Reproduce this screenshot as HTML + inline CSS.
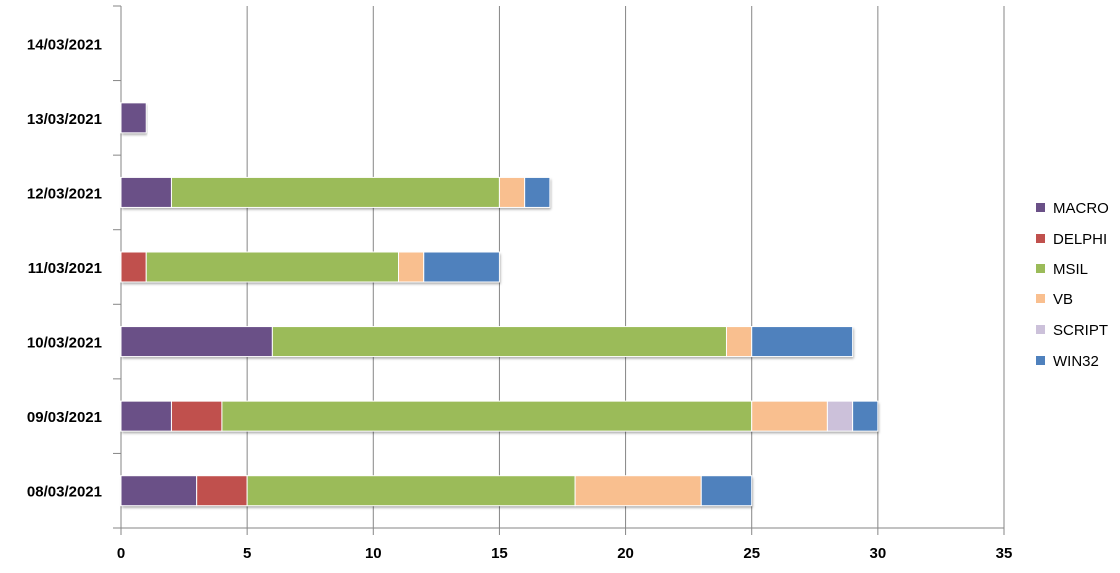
<!DOCTYPE html>
<html><head><meta charset="utf-8"><style>
body{margin:0;background:#fff;}
svg{display:block;font-family:"Liberation Sans",sans-serif;}
</style></head><body>
<svg id="c" width="1120" height="573"></svg>
<script>
const categories=["08/03/2021","09/03/2021","10/03/2021","11/03/2021","12/03/2021","13/03/2021","14/03/2021"];
const seriesNames=["MACRO","DELPHI","MSIL","VB","SCRIPT","WIN32"];
const colors=["#6a5087","#c0504d","#9bbb59","#f9bf8f","#ccc1da","#4f81bd"];
const macro=[3,2,6,0,2,1,0];
const delphi=[2,2,0,1,0,0,0];
const msil=[13,21,18,10,13,0,0];
const vb=[5,3,1,1,1,0,0];
const script=[0,1,0,0,0,0,0];
const win32=[2,1,4,3,1,0,0];
const xTicks=[0,5,10,15,20,25,30,35];
const values=[macro,delphi,msil,vb,script,win32];
const NS="http://www.w3.org/2000/svg";
const svg=document.getElementById("c");
const x0=121,x1=1004,yTop=6,yBot=528,xMax=35;
const band=(yBot-yTop)/categories.length;
const X=v=>x0+v/xMax*(x1-x0);
const Yc=i=>yBot-band*(i+0.5);
function mk(t,a){const e=document.createElementNS(NS,t);for(const k in a)e.setAttribute(k,a[k]);svg.appendChild(e);return e;}
const defs=mk("defs",{});
defs.innerHTML='<filter id="sh" x="-5%" y="-20%" width="110%" height="160%"><feDropShadow dx="1" dy="2" stdDeviation="1.2" flood-color="#000" flood-opacity="0.35"/></filter>';
xTicks.forEach(t=>{
 const g=mk("line",{x1:X(t),x2:X(t),y1:yTop,y2:yBot+7,stroke:"#868686","stroke-width":1});
 
 
 const tx=mk("text",{x:X(t),y:558,"text-anchor":"middle","font-size":15,"font-weight":"bold",fill:"#000"});
 tx.textContent=t;
 
 
});
const ax=mk("line",{x1:x0,x2:x1,y1:yBot,y2:yBot,stroke:"#868686","stroke-width":1});


for(let i=0;i<=categories.length;i++){
 const y=yBot-band*i;
 const tk=mk("line",{x1:113,x2:x0,y1:y,y2:y,stroke:"#868686","stroke-width":1});
 
 
}
categories.forEach((c,i)=>{
 const t=mk("text",{x:102,y:Yc(i)+6,"text-anchor":"end","font-size":15,"font-weight":"bold",fill:"#000"});
 t.textContent=c;
 
 
 let cum=0;
 const tot=values.reduce((s,a)=>s+a[i],0);
 if(tot>0){
  const s=mk("rect",{x:X(0),y:Yc(i)-15,width:X(tot)-X(0),height:30,fill:"#fff",filter:"url(#sh)"});
  
  
 }
 values.forEach((arr,k)=>{
  const v=arr[i];
  if(v>0){
   const r=mk("rect",{x:X(cum),y:Yc(i)-15,width:X(cum+v)-X(cum),height:30,fill:colors[k],stroke:"#fff","stroke-width":1});
   
   
  }
  cum+=v;
 });
});
const ly=[207,238,268,298,329,360];
seriesNames.forEach((n,k)=>{
 const r=mk("rect",{x:1036,y:ly[k]-4,width:9,height:9,fill:colors[k]});
 
 
 const t=mk("text",{x:1053,y:ly[k]+6,"font-size":15,fill:"#000"});
 t.textContent=n;
 
 
});
</script>
</body></html>
